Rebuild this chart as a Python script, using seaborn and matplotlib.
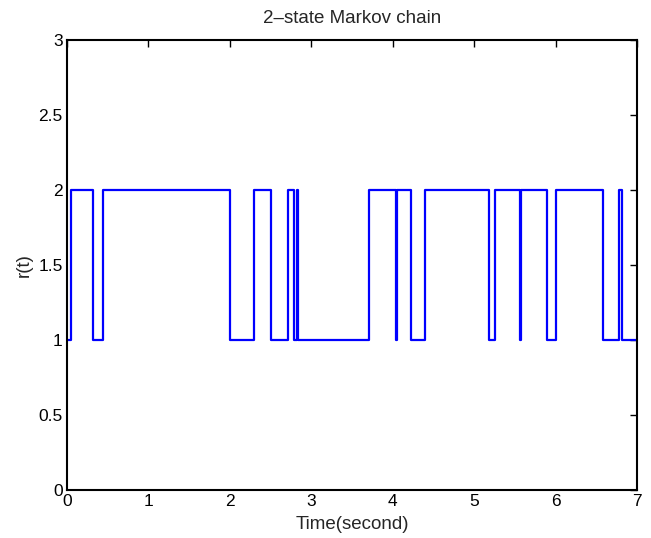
import matplotlib
matplotlib.use("Agg")
import matplotlib.pyplot as plt
import seaborn as sns
import pandas as pd

# switching times (seconds) and the state held from each time on
switch_times = [0.0, 0.05, 0.315, 0.44, 2.0, 2.295, 2.50, 2.715, 2.785, 2.823, 2.838,
                3.705, 4.04, 4.058, 4.225, 4.40, 5.18, 5.25, 5.565, 5.578,
                5.90, 6.00, 6.585, 6.78, 6.81, 7.0]
states = [1, 2, 1, 2, 1, 2, 1, 2, 1, 2, 1,
          2, 1, 2, 1, 2, 1, 2, 1, 2,
          1, 2, 1, 2, 1, 1]

x_ticks = [0, 1, 2, 3, 4, 5, 6, 7]
y_ticks = [0, 0.5, 1, 1.5, 2, 2.5, 3]
y_tick_labels = ["0", "0.5", "1", "1.5", "2", "2.5", "3"]

sns.set_style("white")
plt.rcParams['font.family'] = ['Liberation Sans', 'DejaVu Sans']

df = pd.DataFrame({"t": switch_times, "r": states})

fig = plt.figure(figsize=(6.51, 5.38), dpi=100)
ax = fig.add_axes([67/651, 1 - 490/538, (637 - 67)/651, (490 - 40)/538])

sns.lineplot(data=df, x="t", y="r", ax=ax, estimator=None, sort=False,
             drawstyle="steps-post", color="#0000ff", linewidth=1.6)

ax.set_xlim(0, 7)
ax.set_ylim(0, 3)
ax.set_xticks(x_ticks)
ax.set_yticks(y_ticks)
ax.set_yticklabels(y_tick_labels)
ax.tick_params(direction="in", length=5, width=1, top=True, right=True,
               labelsize=12.5, colors="black", pad=3)
for s in ax.spines.values():
    s.set_visible(True)
    s.set_color("black")
    s.set_linewidth(1.5)

ax.set_xlabel("Time(second)", fontsize=13.5, labelpad=5)
ax.set_ylabel("r(t)", fontsize=13.5, labelpad=4)
ax.set_title("2–state Markov chain", fontsize=13.5, pad=12)

fig.savefig("out.png", dpi=100)
